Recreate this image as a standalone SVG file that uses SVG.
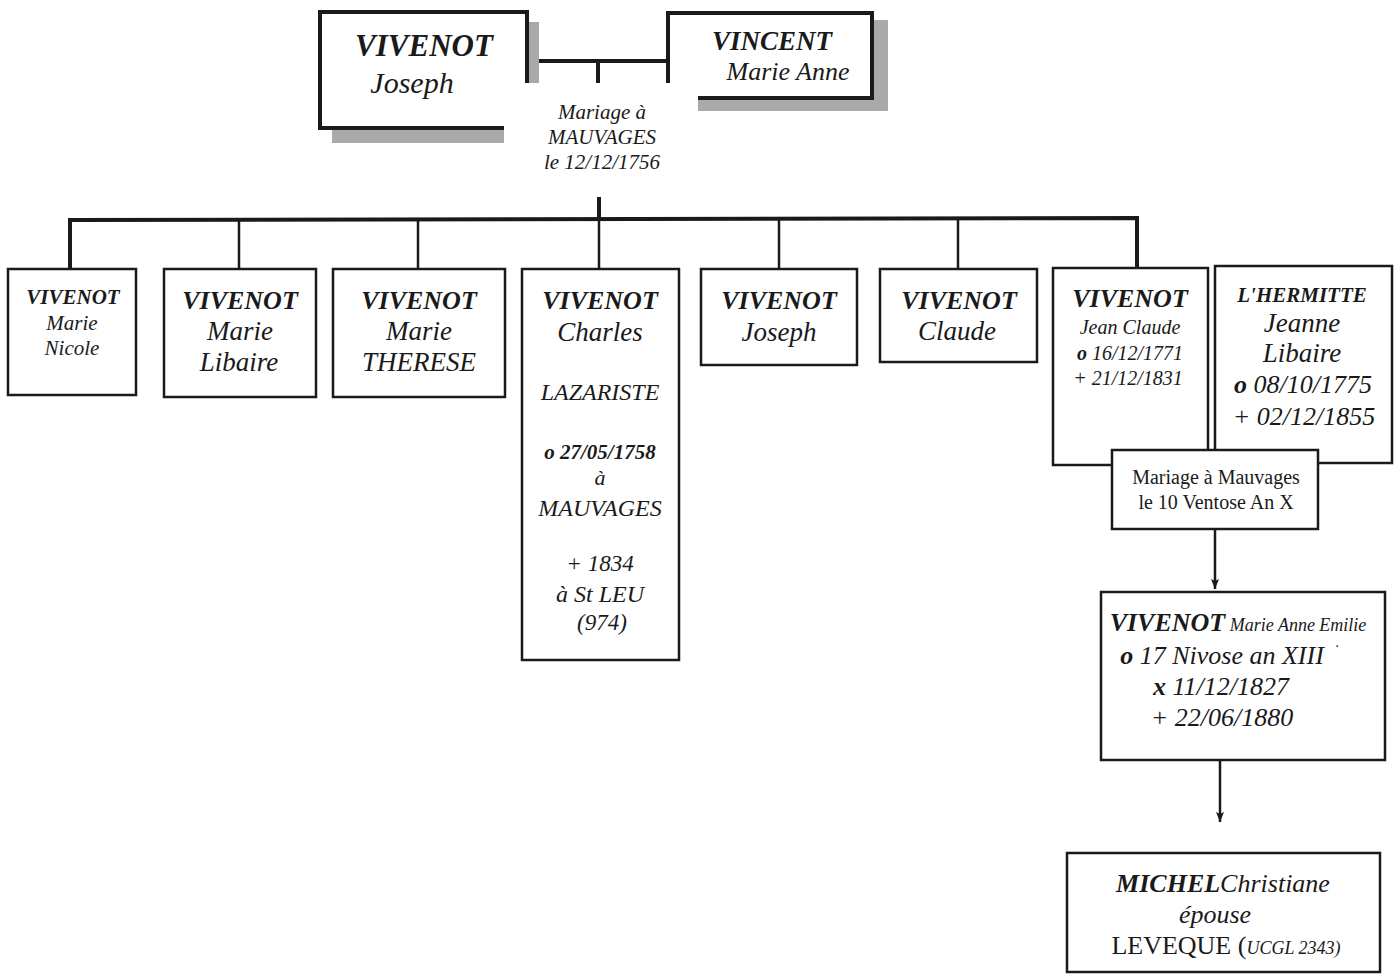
<svg xmlns="http://www.w3.org/2000/svg" width="1399" height="976" viewBox="0 0 1399 976">
<style>
text{font-family:"Liberation Serif","Times New Roman",serif;fill:#1a1a1a;text-anchor:middle}
.i{font-style:italic}
.b{font-weight:bold;font-style:italic}
.n{font-weight:normal;font-style:italic}
.r{font-style:normal}
.box{fill:#fff;stroke:#1a1a1a;stroke-width:2.5}
.tbox{fill:#fff;stroke:#1a1a1a;stroke-width:4}
.sh{fill:#a9a9a9}
.ln{stroke:#1a1a1a;stroke-width:2.5;fill:none}
.lt{stroke:#1a1a1a;stroke-width:4;fill:none}
</style>
<defs>
<marker id="ah" viewBox="0 0 10 8" refX="10" refY="4" markerWidth="10" markerHeight="8" markerUnits="userSpaceOnUse" orient="auto">
<path d="M0,0 L10,4 L0,8 L2,4 z" fill="#1a1a1a"/>
</marker>
</defs>
<rect width="1399" height="976" fill="#fff"/>

<g id="connectors">
<line class="lt" x1="527" y1="61" x2="668" y2="61"/>
<line class="lt" x1="598" y1="61" x2="598" y2="83"/>
<line class="lt" x1="599" y1="197" x2="599" y2="221"/>
<polyline class="lt" points="70,269 70,220 1137,218 1137,268"/>
<line class="ln" x1="239" y1="220" x2="239" y2="269"/>
<line class="ln" x1="418" y1="220" x2="418" y2="269"/>
<line class="ln" x1="599" y1="220" x2="599" y2="269"/>
<line class="ln" x1="779" y1="219" x2="779" y2="269"/>
<line class="ln" x1="958" y1="219" x2="958" y2="269"/>
<line class="ln" x1="1215" y1="529" x2="1215" y2="589" marker-end="url(#ah)"/>
<line class="ln" x1="1220" y1="760" x2="1220" y2="822" marker-end="url(#ah)"/>
</g>

<g id="n-joseph-pere">
<rect class="sh" x="332" y="22" width="207" height="121"/>
<rect class="tbox" x="320" y="12" width="207" height="116"/>
<text class="b" x="424" y="56" font-size="31">VIVENOT</text>
<text class="i" x="412" y="93" font-size="30">Joseph</text>
</g>

<g id="n-vincent">
<rect class="sh" x="683" y="20" width="205" height="91"/>
<rect class="tbox" x="668" y="13" width="204" height="85"/>
<text class="b" x="772" y="50" font-size="27">VINCENT</text>
<text class="i" x="788" y="80" font-size="26">Marie Anne</text>
</g>

<g id="n-mariage1">
<rect x="504" y="83" width="194" height="97" fill="#fff"/>
<text class="i" x="602" y="119" font-size="21">Mariage à</text>
<text class="i" x="602" y="144" font-size="21">MAUVAGES</text>
<text class="i" x="602" y="169" font-size="21">le 12/12/1756</text>
</g>

<g id="n-nicole">
<rect class="box" x="8" y="269" width="128" height="126"/>
<text class="b" x="73" y="304" font-size="21">VIVENOT</text>
<text class="i" x="72" y="330" font-size="21">Marie</text>
<text class="i" x="72" y="355" font-size="21">Nicole</text>
</g>

<g id="n-libaire">
<rect class="box" x="164" y="269" width="152" height="128"/>
<text class="b" x="240" y="309" font-size="26">VIVENOT</text>
<text class="i" x="240" y="340" font-size="27">Marie</text>
<text class="i" x="239" y="371" font-size="27">Libaire</text>
</g>

<g id="n-therese">
<rect class="box" x="333" y="269" width="172" height="128"/>
<text class="b" x="419" y="309" font-size="26">VIVENOT</text>
<text class="i" x="419" y="340" font-size="27">Marie</text>
<text class="i" x="419" y="371" font-size="27">THERESE</text>
</g>

<g id="n-charles">
<rect class="box" x="522" y="269" width="157" height="391"/>
<text class="b" x="600" y="309" font-size="26">VIVENOT</text>
<text class="i" x="600" y="341" font-size="27">Charles</text>
<text class="i" x="600" y="400" font-size="24">LAZARISTE</text>
<text class="b" x="600" y="459" font-size="21">o 27/05/1758</text>
<text class="i" x="600" y="485" font-size="22">à</text>
<text class="i" x="600" y="516" font-size="24">MAUVAGES</text>
<text class="i" x="600" y="571" font-size="23">+ 1834</text>
<text class="i" x="600" y="602" font-size="24">à St LEU</text>
<text class="i" x="602" y="630" font-size="23">(974)</text>
</g>

<g id="n-joseph">
<rect class="box" x="701" y="269" width="156" height="96"/>
<text class="b" x="779" y="309" font-size="26">VIVENOT</text>
<text class="i" x="779" y="341" font-size="27">Joseph</text>
</g>

<g id="n-claude">
<rect class="box" x="880" y="269" width="157" height="93"/>
<text class="b" x="959" y="309" font-size="26">VIVENOT</text>
<text class="i" x="957" y="340" font-size="27">Claude</text>
</g>

<g id="n-jeanclaude">
<rect class="box" x="1053" y="268" width="155" height="197"/>
<text class="b" x="1130" y="307" font-size="26">VIVENOT</text>
<text class="i" x="1130" y="334" font-size="20">Jean Claude</text>
<text class="b" x="1130" y="360" font-size="20">o <tspan class="n">16/12/1771</tspan></text>
<text class="i" x="1128" y="385" font-size="20">+ 21/12/1831</text>
</g>

<g id="n-hermitte">
<rect class="box" x="1215" y="266" width="177" height="197"/>
<text class="b" x="1302" y="302" font-size="21">L'HERMITTE</text>
<text class="i" x="1302" y="332" font-size="27">Jeanne</text>
<text class="i" x="1302" y="362" font-size="27">Libaire</text>
<text class="b" x="1303" y="393" font-size="26">o <tspan class="n">08/10/1775</tspan></text>
<text class="i" x="1304" y="425" font-size="26">+ 02/12/1855</text>
</g>

<g id="n-mariage2">
<rect class="box" x="1112" y="450" width="206" height="79"/>
<text class="r" x="1216" y="484" font-size="20">Mariage à Mauvages</text>
<text class="r" x="1216" y="509" font-size="20">le 10 Ventose An X</text>
</g>

<g id="n-emilie">
<rect class="box" x="1101" y="592" width="284" height="168"/>
<text x="1238" y="631" font-size="26"><tspan class="b">VIVENOT</tspan><tspan class="n" font-size="18"> Marie Anne Emilie</tspan></text>
<text class="i" x="1222" y="664" font-size="26"><tspan class="b">o</tspan> 17 Nivose an XIII</text>
<text x="1337" y="651" font-size="14">·</text>
<text class="i" x="1221" y="695" font-size="26"><tspan class="b">x</tspan>  11/12/1827</text>
<text class="i" x="1222" y="726" font-size="26">+ 22/06/1880</text>
</g>

<g id="n-michel">
<rect class="box" x="1067" y="853" width="313" height="119"/>
<text x="1223" y="892" font-size="26"><tspan class="b">MICHEL</tspan><tspan class="n">Christiane</tspan></text>
<text class="i" x="1215" y="923" font-size="26">épouse</text>
<text x="1226" y="954" font-size="26"><tspan class="r">LEVEQUE (</tspan><tspan class="i" font-size="18">UCGL 2343)</tspan></text>
</g>
</svg>
